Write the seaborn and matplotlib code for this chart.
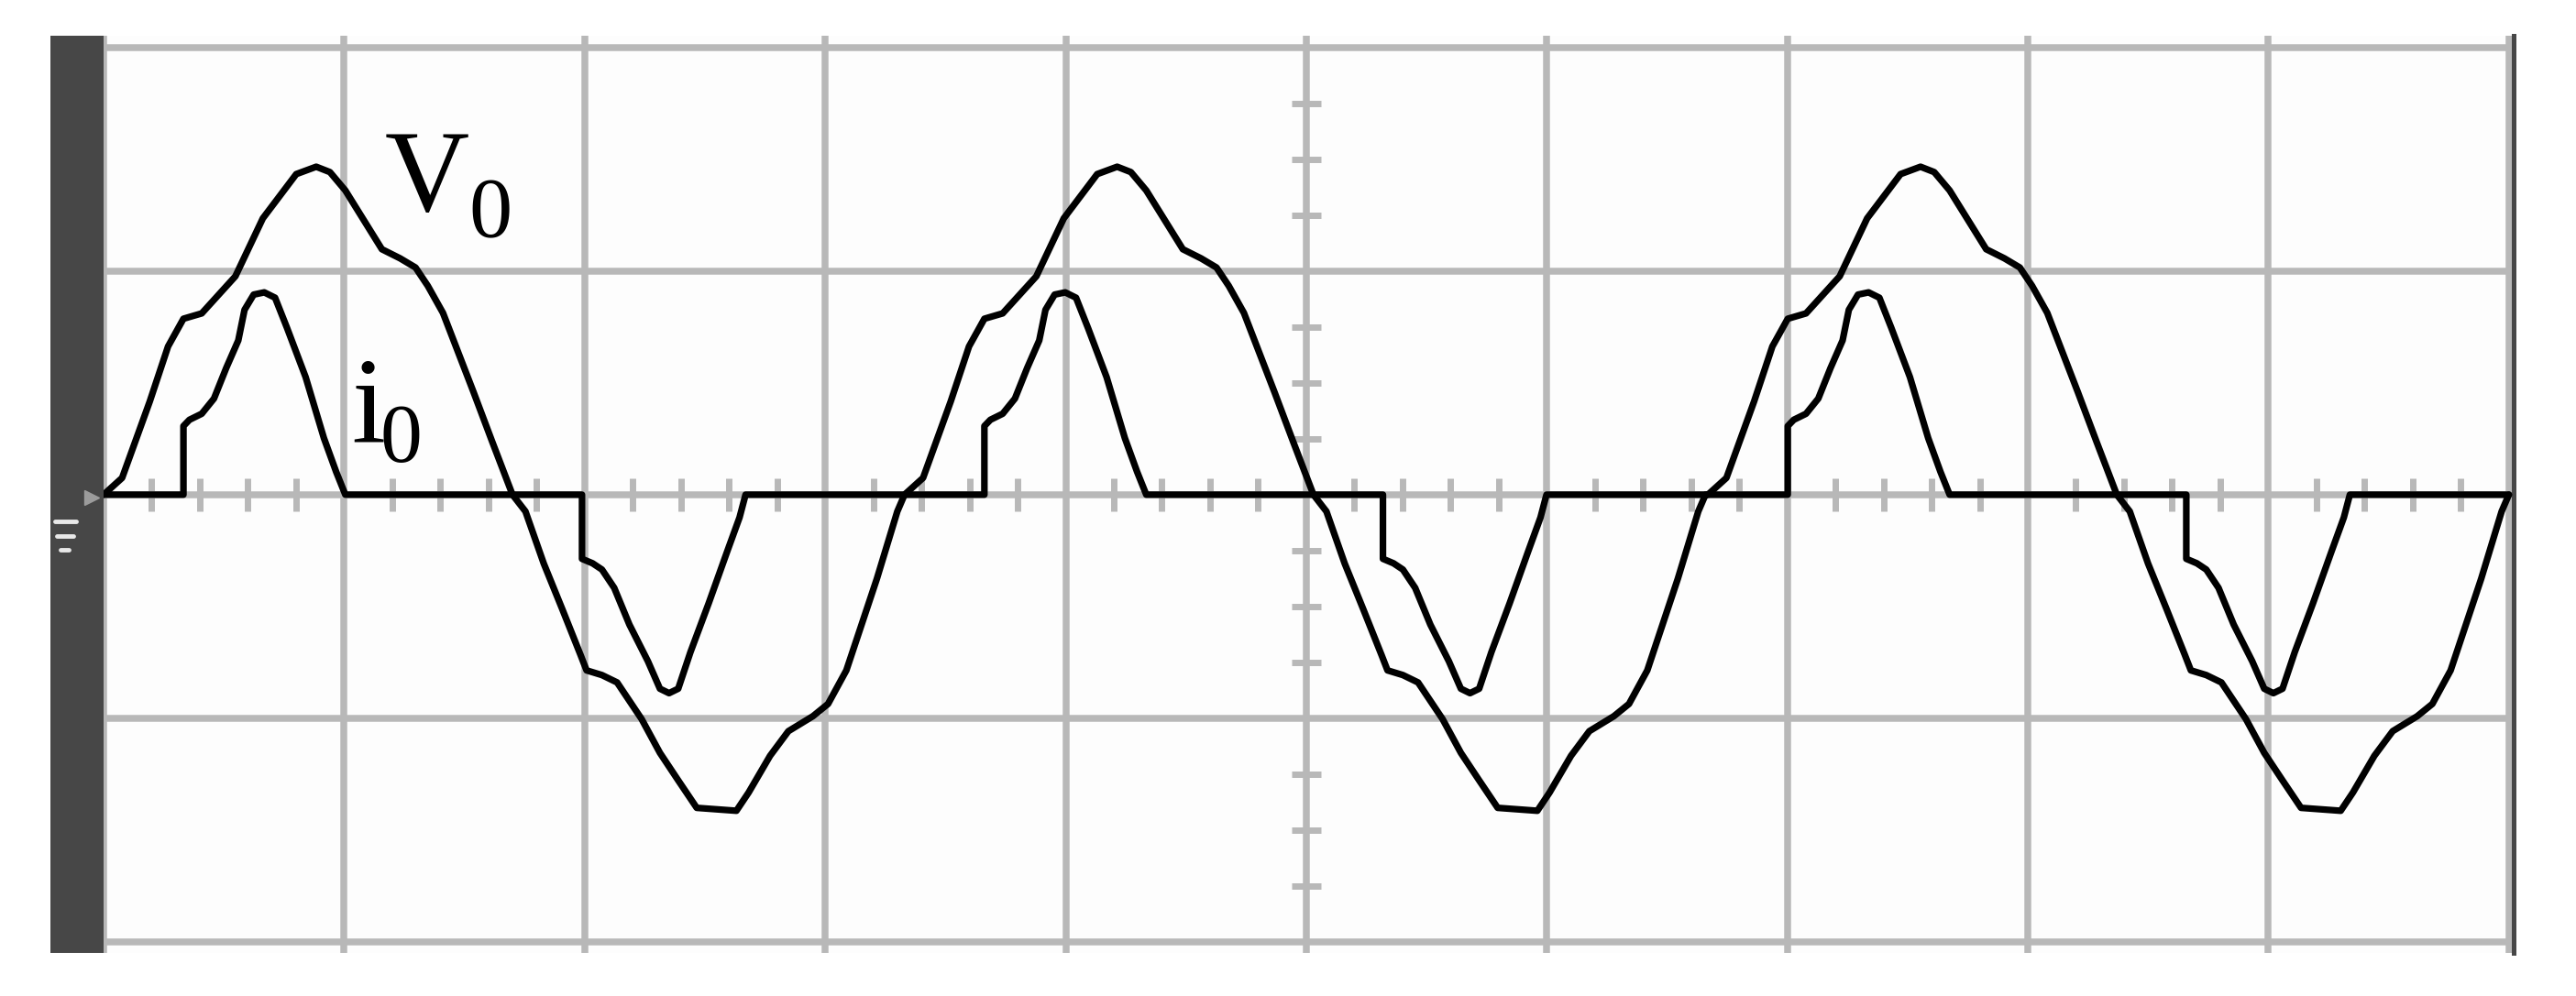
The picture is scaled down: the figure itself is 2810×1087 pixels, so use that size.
import numpy as np
import pandas as pd
import matplotlib
matplotlib.use("Agg")
import matplotlib.pyplot as plt
import seaborn as sns
from matplotlib.patches import Rectangle
from matplotlib.lines import Line2D

# ------------------------- values -------------------------
# time and level are in screen divisions (10 x 4 divisions, 0 level on the centre line)

# one cycle of the output voltage Vo
vo_t = [0.000, 0.077, 0.192, 0.268, 0.332, 0.408, 0.548, 0.662, 0.801, 0.884, 0.941,
        1.005, 1.157, 1.233, 1.297, 1.348, 1.411, 1.538, 1.615, 1.700, 1.754, 1.830,
        1.907, 1.983, 2.008, 2.072, 2.135, 2.186, 2.237, 2.313, 2.389, 2.466, 2.631,
        2.682, 2.771, 2.847, 2.949, 3.012, 3.088, 3.215, 3.300, 3.330]
vo_v = [0.000, 0.075, 0.417, 0.663, 0.787, 0.811, 0.977, 1.236, 1.434, 1.467, 1.443,
        1.361, 1.098, 1.057, 1.016, 0.934, 0.813, 0.459, 0.239, 0.000, -0.075, -0.308,
        -0.512, -0.717, -0.786, -0.807, -0.840, -0.922, -1.004, -1.155, -1.278, -1.401, -1.414,
        -1.332, -1.168, -1.058, -0.991, -0.936, -0.786, -0.376, -0.075, 0.000]

# one cycle of the output current io
io_t = [0.000, 0.332, 0.332, 0.357, 0.408, 0.459, 0.510, 0.560, 0.586, 0.624, 0.668,
        0.713, 0.763, 0.840, 0.916, 0.967, 1.005, 1.989, 1.989, 2.033, 2.072, 2.123,
        2.186, 2.263, 2.313, 2.351, 2.389, 2.440, 2.516, 2.593, 2.644, 2.669, 3.330]
io_v = [0.000, 0.000, 0.307, 0.335, 0.362, 0.430, 0.567, 0.690, 0.827, 0.895, 0.905,
        0.881, 0.745, 0.526, 0.253, 0.102, 0.000, 0.000, -0.287, -0.307, -0.335, -0.417,
        -0.581, -0.745, -0.868, -0.888, -0.868, -0.704, -0.485, -0.253, -0.102, 0.000, 0.000]

# start of each of the three cycles shown on screen
cycle_start = [0.0, 3.33, 6.67]

# screen graticule
x_major = [0, 1, 2, 3, 4, 5, 6, 7, 8, 9, 10]
y_major = [-2, -1, 0, 1, 2]
x_minor = [0.2, 0.4, 0.6, 0.8, 1.2, 1.4, 1.6, 1.8, 2.2, 2.4, 2.6, 2.8, 3.2, 3.4, 3.6, 3.8,
           4.2, 4.4, 4.6, 4.8, 5.2, 5.4, 5.6, 5.8, 6.2, 6.4, 6.6, 6.8, 7.2, 7.4, 7.6, 7.8,
           8.2, 8.4, 8.6, 8.8, 9.2, 9.4, 9.6, 9.8]
y_minor = [-1.75, -1.5, -1.25, -0.75, -0.5, -0.25, 0.25, 0.5, 0.75, 1.25, 1.5, 1.75]


def three_cycles(t, v):
    parts = [pd.DataFrame({"t": np.array(t) + t0, "v": v}) for t0 in cycle_start]
    return pd.concat(parts, ignore_index=True)


vo = three_cycles(vo_t, vo_v)
io = three_cycles(io_t, io_v)

# ------------------------------------ plot ------------------------------------
sns.set_style("white")
plt.rcParams["font.family"] = ["Liberation Serif", "DejaVu Serif"]

W, H = 2810, 1087
fig = plt.figure(figsize=(W / 100, H / 100), dpi=100)
ax = fig.add_axes([113 / W, 47 / H, (2742 - 113) / W, (1040 - 39) / H])
ax.set_facecolor("#fdfdfd")

grid_c = "#b8b8b8"
for x in x_major:
    ax.axvline(x, color=grid_c, lw=5.4, zorder=1)
for y in y_major:
    ax.axhline(y, color=grid_c, lw=5.4, zorder=1)
ax.vlines(x_minor, -0.074, 0.074, colors=grid_c, lw=5.0, zorder=1)
ax.hlines(y_minor, 5 - 0.061, 5 + 0.061, colors=grid_c, lw=5.0, zorder=1)

sns.lineplot(data=vo, x="t", y="v", sort=False, estimator=None, color="black",
             linewidth=5.2, ax=ax, zorder=3)
sns.lineplot(data=io, x="t", y="v", sort=False, estimator=None, color="black",
             linewidth=5.2, ax=ax, zorder=3)

ax.set_xlim(0, 10.02)
ax.set_ylim(-2.05, 2.053)
ax.set_xticks([])
ax.set_yticks([])
ax.set_xlabel("")
ax.set_ylabel("")
for s in ["top", "bottom", "left"]:
    ax.spines[s].set_visible(False)
ax.spines["right"].set_color("#474747")
ax.spines["right"].set_linewidth(3.6)

# trace labels
ax.text(1.17, 1.27, "V", fontsize=92, color="black", ha="left", va="baseline", zorder=4)
ax.text(1.52, 1.152, "0", fontsize=68, color="black", ha="left", va="baseline", zorder=4)
ax.text(1.029, 0.238, "i", fontsize=96, color="black", ha="left", va="baseline", zorder=4)
ax.text(1.151, 0.148, "0", fontsize=66, color="black", ha="left", va="baseline", zorder=4)

# dark side bar of the scope screen with the ground marker
fig.patches.append(Rectangle((55 / W, 47 / H), 58 / W, 1001 / H, transform=fig.transFigure,
                             facecolor="#474747", edgecolor="none", zorder=5))
fig.add_artist(Line2D([100 / W], [(H - 543) / H], marker=">", markersize=11,
                      color="#9c9c9c", linestyle="none", transform=fig.transFigure, zorder=6))
for y0, x0, x1 in [(569, 60, 83), (585, 62, 80), (600, 66, 75)]:
    fig.add_artist(Line2D([x0 / W, x1 / W], [(H - y0) / H] * 2, color="#e8e8e8", lw=3.5,
                          transform=fig.transFigure, zorder=6))

fig.savefig("out.png", dpi=100, facecolor="white")
